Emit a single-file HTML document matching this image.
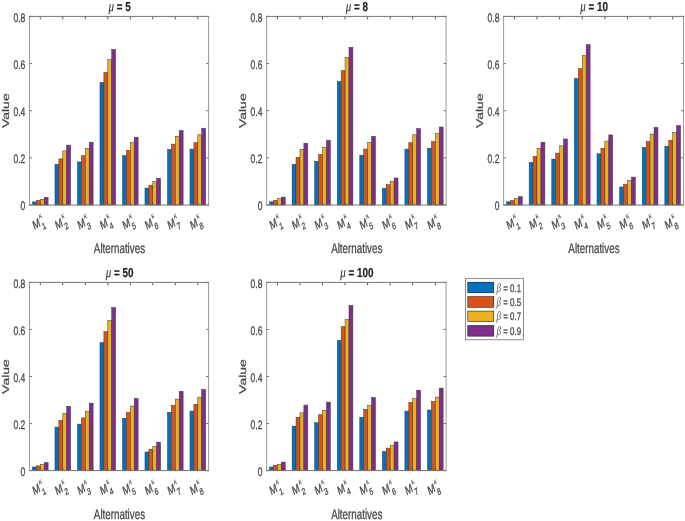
<!DOCTYPE html><html><head><meta charset="utf-8"><style>html,body{margin:0;padding:0;background:#fff;width:685px;height:521px;overflow:hidden}svg{display:block;will-change:transform;text-rendering:geometricPrecision}text{font-family:"Liberation Sans",sans-serif;fill:#484848;stroke:#484848;stroke-width:0.3}</style></head><body><svg width="685" height="521" viewBox="0 0 685 521"><rect width="685" height="521" fill="#fff"/><g stroke="#383838" stroke-width="0.5"><rect x="32.47" y="201.9" width="3.91" height="3.1" fill="#0072BD"/><rect x="36.39" y="200.3" width="3.91" height="4.7" fill="#D95319"/><rect x="40.3" y="199.3" width="3.91" height="5.7" fill="#EDB120"/><rect x="44.21" y="197.3" width="3.91" height="7.7" fill="#7E2F8E"/><rect x="54.97" y="164.3" width="3.91" height="40.7" fill="#0072BD"/><rect x="58.89" y="158.9" width="3.91" height="46.1" fill="#D95319"/><rect x="62.8" y="150.9" width="3.91" height="54.1" fill="#EDB120"/><rect x="66.71" y="145.1" width="3.91" height="59.9" fill="#7E2F8E"/><rect x="77.47" y="161.9" width="3.91" height="43.1" fill="#0072BD"/><rect x="81.39" y="155.7" width="3.91" height="49.3" fill="#D95319"/><rect x="85.3" y="148.4" width="3.91" height="56.6" fill="#EDB120"/><rect x="89.21" y="142.2" width="3.91" height="62.8" fill="#7E2F8E"/><rect x="99.97" y="82.4" width="3.91" height="122.6" fill="#0072BD"/><rect x="103.89" y="72.3" width="3.91" height="132.7" fill="#D95319"/><rect x="107.8" y="59.5" width="3.91" height="145.5" fill="#EDB120"/><rect x="111.71" y="49.4" width="3.91" height="155.6" fill="#7E2F8E"/><rect x="122.47" y="155.6" width="3.91" height="49.4" fill="#0072BD"/><rect x="126.39" y="150.3" width="3.91" height="54.7" fill="#D95319"/><rect x="130.3" y="142.7" width="3.91" height="62.3" fill="#EDB120"/><rect x="134.21" y="137.2" width="3.91" height="67.8" fill="#7E2F8E"/><rect x="144.97" y="188.1" width="3.91" height="16.9" fill="#0072BD"/><rect x="148.89" y="185.2" width="3.91" height="19.8" fill="#D95319"/><rect x="152.8" y="181.5" width="3.91" height="23.5" fill="#EDB120"/><rect x="156.71" y="178.2" width="3.91" height="26.8" fill="#7E2F8E"/><rect x="167.47" y="149.4" width="3.91" height="55.6" fill="#0072BD"/><rect x="171.39" y="144.1" width="3.91" height="60.9" fill="#D95319"/><rect x="175.3" y="136.2" width="3.91" height="68.8" fill="#EDB120"/><rect x="179.21" y="130.4" width="3.91" height="74.6" fill="#7E2F8E"/><rect x="189.97" y="149.1" width="3.91" height="55.9" fill="#0072BD"/><rect x="193.89" y="142.7" width="3.91" height="62.3" fill="#D95319"/><rect x="197.8" y="134.8" width="3.91" height="70.2" fill="#EDB120"/><rect x="201.71" y="128.2" width="3.91" height="76.8" fill="#7E2F8E"/></g><path d="M29.5 16.4V205M208.6 16.4V205" stroke="#9a9a9a" stroke-width="1" fill="none"/><path d="M29 16.4H209.1M29 205H209.1M29.5 205h2.5M208.6 205h-2.5M29.5 157.85h2.5M208.6 157.85h-2.5M29.5 110.7h2.5M208.6 110.7h-2.5M29.5 63.55h2.5M208.6 63.55h-2.5M29.5 16.4h2.5M208.6 16.4h-2.5" stroke="#747474" stroke-width="1" fill="none"/><path d="M40.3 205v-2.5M40.3 16.9v2.5M62.8 205v-2.5M62.8 16.9v2.5M85.3 205v-2.5M85.3 16.9v2.5M107.8 205v-2.5M107.8 16.9v2.5M130.3 205v-2.5M130.3 16.9v2.5M152.8 205v-2.5M152.8 16.9v2.5M175.3 205v-2.5M175.3 16.9v2.5M197.8 205v-2.5M197.8 16.9v2.5" stroke="#5a5a5a" stroke-width="1" fill="none"/><text transform="translate(25.3,210.45) scale(0.7,1)" font-size="12.2" text-anchor="end">0</text><text transform="translate(25.3,163.3) scale(0.7,1)" font-size="12.2" text-anchor="end">0.2</text><text transform="translate(25.3,116.15) scale(0.7,1)" font-size="12.2" text-anchor="end">0.4</text><text transform="translate(25.3,69) scale(0.7,1)" font-size="12.2" text-anchor="end">0.6</text><text transform="translate(25.3,21.85) scale(0.7,1)" font-size="12.2" text-anchor="end">0.8</text><text transform="translate(34.2,230) scale(0.7,1) rotate(-25)" font-size="12.6">M<tspan font-size="9.5" dx="1.3" dy="5.4">1</tspan><tspan font-size="9.5" dx="-5.67" dy="-11.9" style="font-family:&quot;Liberation Serif&quot;,serif;stroke-width:0;fill:#333" font-style="italic">&#954;</tspan></text><text transform="translate(56.7,230) scale(0.7,1) rotate(-25)" font-size="12.6">M<tspan font-size="9.5" dx="1.3" dy="5.4">2</tspan><tspan font-size="9.5" dx="-5.67" dy="-11.9" style="font-family:&quot;Liberation Serif&quot;,serif;stroke-width:0;fill:#333" font-style="italic">&#954;</tspan></text><text transform="translate(79.2,230) scale(0.7,1) rotate(-25)" font-size="12.6">M<tspan font-size="9.5" dx="1.3" dy="5.4">3</tspan><tspan font-size="9.5" dx="-5.67" dy="-11.9" style="font-family:&quot;Liberation Serif&quot;,serif;stroke-width:0;fill:#333" font-style="italic">&#954;</tspan></text><text transform="translate(101.7,230) scale(0.7,1) rotate(-25)" font-size="12.6">M<tspan font-size="9.5" dx="1.3" dy="5.4">4</tspan><tspan font-size="9.5" dx="-5.67" dy="-11.9" style="font-family:&quot;Liberation Serif&quot;,serif;stroke-width:0;fill:#333" font-style="italic">&#954;</tspan></text><text transform="translate(124.2,230) scale(0.7,1) rotate(-25)" font-size="12.6">M<tspan font-size="9.5" dx="1.3" dy="5.4">5</tspan><tspan font-size="9.5" dx="-5.67" dy="-11.9" style="font-family:&quot;Liberation Serif&quot;,serif;stroke-width:0;fill:#333" font-style="italic">&#954;</tspan></text><text transform="translate(146.7,230) scale(0.7,1) rotate(-25)" font-size="12.6">M<tspan font-size="9.5" dx="1.3" dy="5.4">6</tspan><tspan font-size="9.5" dx="-5.67" dy="-11.9" style="font-family:&quot;Liberation Serif&quot;,serif;stroke-width:0;fill:#333" font-style="italic">&#954;</tspan></text><text transform="translate(169.2,230) scale(0.7,1) rotate(-25)" font-size="12.6">M<tspan font-size="9.5" dx="1.3" dy="5.4">7</tspan><tspan font-size="9.5" dx="-5.67" dy="-11.9" style="font-family:&quot;Liberation Serif&quot;,serif;stroke-width:0;fill:#333" font-style="italic">&#954;</tspan></text><text transform="translate(191.7,230) scale(0.7,1) rotate(-25)" font-size="12.6">M<tspan font-size="9.5" dx="1.3" dy="5.4">8</tspan><tspan font-size="9.5" dx="-5.67" dy="-11.9" style="font-family:&quot;Liberation Serif&quot;,serif;stroke-width:0;fill:#333" font-style="italic">&#954;</tspan></text><text transform="translate(119.55,11.4) scale(0.76,1)" font-size="13.0" font-weight="bold" text-anchor="middle" style="fill:#1a1a1a;stroke:#1a1a1a;stroke-width:0.15"><tspan style="font-family:&quot;Liberation Serif&quot;,serif;fill:#333;stroke-width:0.1" font-size="14.5" font-style="italic" font-weight="normal">&#956;</tspan> = 5</text><text transform="translate(119.45,253.1) scale(0.7,1)" font-size="14.0" text-anchor="middle">Alternatives</text><text transform="translate(8.7,110.7) scale(0.7,1) rotate(-90)" font-size="14.0" text-anchor="middle">Value</text><g stroke="#383838" stroke-width="0.5"><rect x="269.55" y="201.8" width="3.92" height="3.2" fill="#0072BD"/><rect x="273.48" y="200.4" width="3.92" height="4.6" fill="#D95319"/><rect x="277.4" y="198.5" width="3.92" height="6.5" fill="#EDB120"/><rect x="281.32" y="197.1" width="3.92" height="7.9" fill="#7E2F8E"/><rect x="292.11" y="164.2" width="3.92" height="40.8" fill="#0072BD"/><rect x="296.03" y="157.4" width="3.92" height="47.6" fill="#D95319"/><rect x="299.96" y="149.4" width="3.92" height="55.6" fill="#EDB120"/><rect x="303.88" y="143.2" width="3.92" height="61.8" fill="#7E2F8E"/><rect x="314.67" y="161.2" width="3.92" height="43.8" fill="#0072BD"/><rect x="318.59" y="154.4" width="3.92" height="50.6" fill="#D95319"/><rect x="322.51" y="147.3" width="3.92" height="57.7" fill="#EDB120"/><rect x="326.44" y="140.2" width="3.92" height="64.8" fill="#7E2F8E"/><rect x="337.23" y="81.6" width="3.92" height="123.4" fill="#0072BD"/><rect x="341.15" y="70.6" width="3.92" height="134.4" fill="#D95319"/><rect x="345.07" y="57.5" width="3.92" height="147.5" fill="#EDB120"/><rect x="348.99" y="47.3" width="3.92" height="157.7" fill="#7E2F8E"/><rect x="359.78" y="155.2" width="3.92" height="49.8" fill="#0072BD"/><rect x="363.71" y="149.1" width="3.92" height="55.9" fill="#D95319"/><rect x="367.63" y="142.4" width="3.92" height="62.6" fill="#EDB120"/><rect x="371.55" y="136.2" width="3.92" height="68.8" fill="#7E2F8E"/><rect x="382.34" y="188.2" width="3.92" height="16.8" fill="#0072BD"/><rect x="386.26" y="184.7" width="3.92" height="20.3" fill="#D95319"/><rect x="390.19" y="181.2" width="3.92" height="23.8" fill="#EDB120"/><rect x="394.11" y="178" width="3.92" height="27" fill="#7E2F8E"/><rect x="404.9" y="149.1" width="3.92" height="55.9" fill="#0072BD"/><rect x="408.82" y="142.7" width="3.92" height="62.3" fill="#D95319"/><rect x="412.74" y="134.8" width="3.92" height="70.2" fill="#EDB120"/><rect x="416.67" y="128.6" width="3.92" height="76.4" fill="#7E2F8E"/><rect x="427.45" y="148.2" width="3.92" height="56.8" fill="#0072BD"/><rect x="431.38" y="141.5" width="3.92" height="63.5" fill="#D95319"/><rect x="435.3" y="133.4" width="3.92" height="71.6" fill="#EDB120"/><rect x="439.22" y="127" width="3.92" height="78" fill="#7E2F8E"/></g><path d="M266.6 16.4V205M446.1 16.4V205" stroke="#9a9a9a" stroke-width="1" fill="none"/><path d="M266.1 16.4H446.6M266.1 205H446.6M266.6 205h2.5M446.1 205h-2.5M266.6 157.85h2.5M446.1 157.85h-2.5M266.6 110.7h2.5M446.1 110.7h-2.5M266.6 63.55h2.5M446.1 63.55h-2.5M266.6 16.4h2.5M446.1 16.4h-2.5" stroke="#747474" stroke-width="1" fill="none"/><path d="M277.4 205v-2.5M277.4 16.9v2.5M299.96 205v-2.5M299.96 16.9v2.5M322.51 205v-2.5M322.51 16.9v2.5M345.07 205v-2.5M345.07 16.9v2.5M367.63 205v-2.5M367.63 16.9v2.5M390.19 205v-2.5M390.19 16.9v2.5M412.74 205v-2.5M412.74 16.9v2.5M435.3 205v-2.5M435.3 16.9v2.5" stroke="#5a5a5a" stroke-width="1" fill="none"/><text transform="translate(262.4,210.45) scale(0.7,1)" font-size="12.2" text-anchor="end">0</text><text transform="translate(262.4,163.3) scale(0.7,1)" font-size="12.2" text-anchor="end">0.2</text><text transform="translate(262.4,116.15) scale(0.7,1)" font-size="12.2" text-anchor="end">0.4</text><text transform="translate(262.4,69) scale(0.7,1)" font-size="12.2" text-anchor="end">0.6</text><text transform="translate(262.4,21.85) scale(0.7,1)" font-size="12.2" text-anchor="end">0.8</text><text transform="translate(271.3,230) scale(0.7,1) rotate(-25)" font-size="12.6">M<tspan font-size="9.5" dx="1.3" dy="5.4">1</tspan><tspan font-size="9.5" dx="-5.67" dy="-11.9" style="font-family:&quot;Liberation Serif&quot;,serif;stroke-width:0;fill:#333" font-style="italic">&#954;</tspan></text><text transform="translate(293.86,230) scale(0.7,1) rotate(-25)" font-size="12.6">M<tspan font-size="9.5" dx="1.3" dy="5.4">2</tspan><tspan font-size="9.5" dx="-5.67" dy="-11.9" style="font-family:&quot;Liberation Serif&quot;,serif;stroke-width:0;fill:#333" font-style="italic">&#954;</tspan></text><text transform="translate(316.41,230) scale(0.7,1) rotate(-25)" font-size="12.6">M<tspan font-size="9.5" dx="1.3" dy="5.4">3</tspan><tspan font-size="9.5" dx="-5.67" dy="-11.9" style="font-family:&quot;Liberation Serif&quot;,serif;stroke-width:0;fill:#333" font-style="italic">&#954;</tspan></text><text transform="translate(338.97,230) scale(0.7,1) rotate(-25)" font-size="12.6">M<tspan font-size="9.5" dx="1.3" dy="5.4">4</tspan><tspan font-size="9.5" dx="-5.67" dy="-11.9" style="font-family:&quot;Liberation Serif&quot;,serif;stroke-width:0;fill:#333" font-style="italic">&#954;</tspan></text><text transform="translate(361.53,230) scale(0.7,1) rotate(-25)" font-size="12.6">M<tspan font-size="9.5" dx="1.3" dy="5.4">5</tspan><tspan font-size="9.5" dx="-5.67" dy="-11.9" style="font-family:&quot;Liberation Serif&quot;,serif;stroke-width:0;fill:#333" font-style="italic">&#954;</tspan></text><text transform="translate(384.09,230) scale(0.7,1) rotate(-25)" font-size="12.6">M<tspan font-size="9.5" dx="1.3" dy="5.4">6</tspan><tspan font-size="9.5" dx="-5.67" dy="-11.9" style="font-family:&quot;Liberation Serif&quot;,serif;stroke-width:0;fill:#333" font-style="italic">&#954;</tspan></text><text transform="translate(406.64,230) scale(0.7,1) rotate(-25)" font-size="12.6">M<tspan font-size="9.5" dx="1.3" dy="5.4">7</tspan><tspan font-size="9.5" dx="-5.67" dy="-11.9" style="font-family:&quot;Liberation Serif&quot;,serif;stroke-width:0;fill:#333" font-style="italic">&#954;</tspan></text><text transform="translate(429.2,230) scale(0.7,1) rotate(-25)" font-size="12.6">M<tspan font-size="9.5" dx="1.3" dy="5.4">8</tspan><tspan font-size="9.5" dx="-5.67" dy="-11.9" style="font-family:&quot;Liberation Serif&quot;,serif;stroke-width:0;fill:#333" font-style="italic">&#954;</tspan></text><text transform="translate(356.85,11.4) scale(0.76,1)" font-size="13.0" font-weight="bold" text-anchor="middle" style="fill:#1a1a1a;stroke:#1a1a1a;stroke-width:0.15"><tspan style="font-family:&quot;Liberation Serif&quot;,serif;fill:#333;stroke-width:0.1" font-size="14.5" font-style="italic" font-weight="normal">&#956;</tspan> = 8</text><text transform="translate(356.75,253.1) scale(0.7,1)" font-size="14.0" text-anchor="middle">Alternatives</text><text transform="translate(245.8,110.7) scale(0.7,1) rotate(-90)" font-size="14.0" text-anchor="middle">Value</text><g stroke="#383838" stroke-width="0.5"><rect x="506.54" y="201.8" width="3.93" height="3.2" fill="#0072BD"/><rect x="510.47" y="200.4" width="3.93" height="4.6" fill="#D95319"/><rect x="514.4" y="198.5" width="3.93" height="6.5" fill="#EDB120"/><rect x="518.33" y="196.7" width="3.93" height="8.3" fill="#7E2F8E"/><rect x="529.15" y="162.3" width="3.93" height="42.7" fill="#0072BD"/><rect x="533.08" y="156.3" width="3.93" height="48.7" fill="#D95319"/><rect x="537.01" y="148.2" width="3.93" height="56.8" fill="#EDB120"/><rect x="540.95" y="142.2" width="3.93" height="62.8" fill="#7E2F8E"/><rect x="551.77" y="159.1" width="3.93" height="45.9" fill="#0072BD"/><rect x="555.7" y="153.1" width="3.93" height="51.9" fill="#D95319"/><rect x="559.63" y="145.9" width="3.93" height="59.1" fill="#EDB120"/><rect x="563.56" y="139" width="3.93" height="66" fill="#7E2F8E"/><rect x="574.38" y="78.5" width="3.93" height="126.5" fill="#0072BD"/><rect x="578.31" y="68.7" width="3.93" height="136.3" fill="#D95319"/><rect x="582.24" y="55.6" width="3.93" height="149.4" fill="#EDB120"/><rect x="586.17" y="44.7" width="3.93" height="160.3" fill="#7E2F8E"/><rect x="596.99" y="153.8" width="3.93" height="51.2" fill="#0072BD"/><rect x="600.93" y="148.2" width="3.93" height="56.8" fill="#D95319"/><rect x="604.86" y="141.1" width="3.93" height="63.9" fill="#EDB120"/><rect x="608.79" y="134.9" width="3.93" height="70.1" fill="#7E2F8E"/><rect x="619.61" y="187" width="3.93" height="18" fill="#0072BD"/><rect x="623.54" y="184.2" width="3.93" height="20.8" fill="#D95319"/><rect x="627.47" y="180.5" width="3.93" height="24.5" fill="#EDB120"/><rect x="631.4" y="177.1" width="3.93" height="27.9" fill="#7E2F8E"/><rect x="642.22" y="147.5" width="3.93" height="57.5" fill="#0072BD"/><rect x="646.15" y="141.5" width="3.93" height="63.5" fill="#D95319"/><rect x="650.09" y="134.1" width="3.93" height="70.9" fill="#EDB120"/><rect x="654.02" y="127.4" width="3.93" height="77.6" fill="#7E2F8E"/><rect x="664.84" y="146.2" width="3.93" height="58.8" fill="#0072BD"/><rect x="668.77" y="140.2" width="3.93" height="64.8" fill="#D95319"/><rect x="672.7" y="132.3" width="3.93" height="72.7" fill="#EDB120"/><rect x="676.63" y="125.6" width="3.93" height="79.4" fill="#7E2F8E"/></g><path d="M503.6 16.4V205M683.5 16.4V205" stroke="#9a9a9a" stroke-width="1" fill="none"/><path d="M503.1 16.4H684M503.1 205H684M503.6 205h2.5M683.5 205h-2.5M503.6 157.85h2.5M683.5 157.85h-2.5M503.6 110.7h2.5M683.5 110.7h-2.5M503.6 63.55h2.5M683.5 63.55h-2.5M503.6 16.4h2.5M683.5 16.4h-2.5" stroke="#747474" stroke-width="1" fill="none"/><path d="M514.4 205v-2.5M514.4 16.9v2.5M537.01 205v-2.5M537.01 16.9v2.5M559.63 205v-2.5M559.63 16.9v2.5M582.24 205v-2.5M582.24 16.9v2.5M604.86 205v-2.5M604.86 16.9v2.5M627.47 205v-2.5M627.47 16.9v2.5M650.09 205v-2.5M650.09 16.9v2.5M672.7 205v-2.5M672.7 16.9v2.5" stroke="#5a5a5a" stroke-width="1" fill="none"/><text transform="translate(499.4,210.45) scale(0.7,1)" font-size="12.2" text-anchor="end">0</text><text transform="translate(499.4,163.3) scale(0.7,1)" font-size="12.2" text-anchor="end">0.2</text><text transform="translate(499.4,116.15) scale(0.7,1)" font-size="12.2" text-anchor="end">0.4</text><text transform="translate(499.4,69) scale(0.7,1)" font-size="12.2" text-anchor="end">0.6</text><text transform="translate(499.4,21.85) scale(0.7,1)" font-size="12.2" text-anchor="end">0.8</text><text transform="translate(508.3,230) scale(0.7,1) rotate(-25)" font-size="12.6">M<tspan font-size="9.5" dx="1.3" dy="5.4">1</tspan><tspan font-size="9.5" dx="-5.67" dy="-11.9" style="font-family:&quot;Liberation Serif&quot;,serif;stroke-width:0;fill:#333" font-style="italic">&#954;</tspan></text><text transform="translate(530.91,230) scale(0.7,1) rotate(-25)" font-size="12.6">M<tspan font-size="9.5" dx="1.3" dy="5.4">2</tspan><tspan font-size="9.5" dx="-5.67" dy="-11.9" style="font-family:&quot;Liberation Serif&quot;,serif;stroke-width:0;fill:#333" font-style="italic">&#954;</tspan></text><text transform="translate(553.53,230) scale(0.7,1) rotate(-25)" font-size="12.6">M<tspan font-size="9.5" dx="1.3" dy="5.4">3</tspan><tspan font-size="9.5" dx="-5.67" dy="-11.9" style="font-family:&quot;Liberation Serif&quot;,serif;stroke-width:0;fill:#333" font-style="italic">&#954;</tspan></text><text transform="translate(576.14,230) scale(0.7,1) rotate(-25)" font-size="12.6">M<tspan font-size="9.5" dx="1.3" dy="5.4">4</tspan><tspan font-size="9.5" dx="-5.67" dy="-11.9" style="font-family:&quot;Liberation Serif&quot;,serif;stroke-width:0;fill:#333" font-style="italic">&#954;</tspan></text><text transform="translate(598.76,230) scale(0.7,1) rotate(-25)" font-size="12.6">M<tspan font-size="9.5" dx="1.3" dy="5.4">5</tspan><tspan font-size="9.5" dx="-5.67" dy="-11.9" style="font-family:&quot;Liberation Serif&quot;,serif;stroke-width:0;fill:#333" font-style="italic">&#954;</tspan></text><text transform="translate(621.37,230) scale(0.7,1) rotate(-25)" font-size="12.6">M<tspan font-size="9.5" dx="1.3" dy="5.4">6</tspan><tspan font-size="9.5" dx="-5.67" dy="-11.9" style="font-family:&quot;Liberation Serif&quot;,serif;stroke-width:0;fill:#333" font-style="italic">&#954;</tspan></text><text transform="translate(643.99,230) scale(0.7,1) rotate(-25)" font-size="12.6">M<tspan font-size="9.5" dx="1.3" dy="5.4">7</tspan><tspan font-size="9.5" dx="-5.67" dy="-11.9" style="font-family:&quot;Liberation Serif&quot;,serif;stroke-width:0;fill:#333" font-style="italic">&#954;</tspan></text><text transform="translate(666.6,230) scale(0.7,1) rotate(-25)" font-size="12.6">M<tspan font-size="9.5" dx="1.3" dy="5.4">8</tspan><tspan font-size="9.5" dx="-5.67" dy="-11.9" style="font-family:&quot;Liberation Serif&quot;,serif;stroke-width:0;fill:#333" font-style="italic">&#954;</tspan></text><text transform="translate(594.05,11.4) scale(0.76,1)" font-size="13.0" font-weight="bold" text-anchor="middle" style="fill:#1a1a1a;stroke:#1a1a1a;stroke-width:0.15"><tspan style="font-family:&quot;Liberation Serif&quot;,serif;fill:#333;stroke-width:0.1" font-size="14.5" font-style="italic" font-weight="normal">&#956;</tspan> = 10</text><text transform="translate(593.95,253.1) scale(0.7,1)" font-size="14.0" text-anchor="middle">Alternatives</text><text transform="translate(482.8,110.7) scale(0.7,1) rotate(-90)" font-size="14.0" text-anchor="middle">Value</text><g stroke="#383838" stroke-width="0.5"><rect x="32.47" y="467" width="3.91" height="3.6" fill="#0072BD"/><rect x="36.39" y="465.9" width="3.91" height="4.7" fill="#D95319"/><rect x="40.3" y="464.5" width="3.91" height="6.1" fill="#EDB120"/><rect x="44.21" y="462.6" width="3.91" height="8" fill="#7E2F8E"/><rect x="54.97" y="427.1" width="3.91" height="43.5" fill="#0072BD"/><rect x="58.89" y="420.4" width="3.91" height="50.2" fill="#D95319"/><rect x="62.8" y="413.4" width="3.91" height="57.2" fill="#EDB120"/><rect x="66.71" y="406.3" width="3.91" height="64.3" fill="#7E2F8E"/><rect x="77.47" y="424.1" width="3.91" height="46.5" fill="#0072BD"/><rect x="81.39" y="417.9" width="3.91" height="52.7" fill="#D95319"/><rect x="85.3" y="411.2" width="3.91" height="59.4" fill="#EDB120"/><rect x="89.21" y="403.1" width="3.91" height="67.5" fill="#7E2F8E"/><rect x="99.97" y="342.5" width="3.91" height="128.1" fill="#0072BD"/><rect x="103.89" y="331.5" width="3.91" height="139.1" fill="#D95319"/><rect x="107.8" y="320.6" width="3.91" height="150" fill="#EDB120"/><rect x="111.71" y="307.5" width="3.91" height="163.1" fill="#7E2F8E"/><rect x="122.47" y="418.3" width="3.91" height="52.3" fill="#0072BD"/><rect x="126.39" y="412.3" width="3.91" height="58.3" fill="#D95319"/><rect x="130.3" y="406.1" width="3.91" height="64.5" fill="#EDB120"/><rect x="134.21" y="398.5" width="3.91" height="72.1" fill="#7E2F8E"/><rect x="144.97" y="452" width="3.91" height="18.6" fill="#0072BD"/><rect x="148.89" y="449.2" width="3.91" height="21.4" fill="#D95319"/><rect x="152.8" y="446.2" width="3.91" height="24.4" fill="#EDB120"/><rect x="156.71" y="442.1" width="3.91" height="28.5" fill="#7E2F8E"/><rect x="167.47" y="412.3" width="3.91" height="58.3" fill="#0072BD"/><rect x="171.39" y="405.2" width="3.91" height="65.4" fill="#D95319"/><rect x="175.3" y="399.1" width="3.91" height="71.5" fill="#EDB120"/><rect x="179.21" y="391.3" width="3.91" height="79.3" fill="#7E2F8E"/><rect x="189.97" y="411.1" width="3.91" height="59.5" fill="#0072BD"/><rect x="193.89" y="404.2" width="3.91" height="66.4" fill="#D95319"/><rect x="197.8" y="397.1" width="3.91" height="73.5" fill="#EDB120"/><rect x="201.71" y="389.4" width="3.91" height="81.2" fill="#7E2F8E"/></g><path d="M29.5 282.4V470.6M208.6 282.4V470.6" stroke="#9a9a9a" stroke-width="1" fill="none"/><path d="M29 282.4H209.1M29 470.6H209.1M29.5 470.6h2.5M208.6 470.6h-2.5M29.5 423.55h2.5M208.6 423.55h-2.5M29.5 376.5h2.5M208.6 376.5h-2.5M29.5 329.45h2.5M208.6 329.45h-2.5M29.5 282.4h2.5M208.6 282.4h-2.5" stroke="#747474" stroke-width="1" fill="none"/><path d="M40.3 470.6v-2.5M40.3 282.9v2.5M62.8 470.6v-2.5M62.8 282.9v2.5M85.3 470.6v-2.5M85.3 282.9v2.5M107.8 470.6v-2.5M107.8 282.9v2.5M130.3 470.6v-2.5M130.3 282.9v2.5M152.8 470.6v-2.5M152.8 282.9v2.5M175.3 470.6v-2.5M175.3 282.9v2.5M197.8 470.6v-2.5M197.8 282.9v2.5" stroke="#5a5a5a" stroke-width="1" fill="none"/><text transform="translate(25.3,476.05) scale(0.7,1)" font-size="12.2" text-anchor="end">0</text><text transform="translate(25.3,429) scale(0.7,1)" font-size="12.2" text-anchor="end">0.2</text><text transform="translate(25.3,381.95) scale(0.7,1)" font-size="12.2" text-anchor="end">0.4</text><text transform="translate(25.3,334.9) scale(0.7,1)" font-size="12.2" text-anchor="end">0.6</text><text transform="translate(25.3,287.85) scale(0.7,1)" font-size="12.2" text-anchor="end">0.8</text><text transform="translate(34.2,495.6) scale(0.7,1) rotate(-25)" font-size="12.6">M<tspan font-size="9.5" dx="1.3" dy="5.4">1</tspan><tspan font-size="9.5" dx="-5.67" dy="-11.9" style="font-family:&quot;Liberation Serif&quot;,serif;stroke-width:0;fill:#333" font-style="italic">&#954;</tspan></text><text transform="translate(56.7,495.6) scale(0.7,1) rotate(-25)" font-size="12.6">M<tspan font-size="9.5" dx="1.3" dy="5.4">2</tspan><tspan font-size="9.5" dx="-5.67" dy="-11.9" style="font-family:&quot;Liberation Serif&quot;,serif;stroke-width:0;fill:#333" font-style="italic">&#954;</tspan></text><text transform="translate(79.2,495.6) scale(0.7,1) rotate(-25)" font-size="12.6">M<tspan font-size="9.5" dx="1.3" dy="5.4">3</tspan><tspan font-size="9.5" dx="-5.67" dy="-11.9" style="font-family:&quot;Liberation Serif&quot;,serif;stroke-width:0;fill:#333" font-style="italic">&#954;</tspan></text><text transform="translate(101.7,495.6) scale(0.7,1) rotate(-25)" font-size="12.6">M<tspan font-size="9.5" dx="1.3" dy="5.4">4</tspan><tspan font-size="9.5" dx="-5.67" dy="-11.9" style="font-family:&quot;Liberation Serif&quot;,serif;stroke-width:0;fill:#333" font-style="italic">&#954;</tspan></text><text transform="translate(124.2,495.6) scale(0.7,1) rotate(-25)" font-size="12.6">M<tspan font-size="9.5" dx="1.3" dy="5.4">5</tspan><tspan font-size="9.5" dx="-5.67" dy="-11.9" style="font-family:&quot;Liberation Serif&quot;,serif;stroke-width:0;fill:#333" font-style="italic">&#954;</tspan></text><text transform="translate(146.7,495.6) scale(0.7,1) rotate(-25)" font-size="12.6">M<tspan font-size="9.5" dx="1.3" dy="5.4">6</tspan><tspan font-size="9.5" dx="-5.67" dy="-11.9" style="font-family:&quot;Liberation Serif&quot;,serif;stroke-width:0;fill:#333" font-style="italic">&#954;</tspan></text><text transform="translate(169.2,495.6) scale(0.7,1) rotate(-25)" font-size="12.6">M<tspan font-size="9.5" dx="1.3" dy="5.4">7</tspan><tspan font-size="9.5" dx="-5.67" dy="-11.9" style="font-family:&quot;Liberation Serif&quot;,serif;stroke-width:0;fill:#333" font-style="italic">&#954;</tspan></text><text transform="translate(191.7,495.6) scale(0.7,1) rotate(-25)" font-size="12.6">M<tspan font-size="9.5" dx="1.3" dy="5.4">8</tspan><tspan font-size="9.5" dx="-5.67" dy="-11.9" style="font-family:&quot;Liberation Serif&quot;,serif;stroke-width:0;fill:#333" font-style="italic">&#954;</tspan></text><text transform="translate(119.55,277.4) scale(0.76,1)" font-size="13.0" font-weight="bold" text-anchor="middle" style="fill:#1a1a1a;stroke:#1a1a1a;stroke-width:0.15"><tspan style="font-family:&quot;Liberation Serif&quot;,serif;fill:#333;stroke-width:0.1" font-size="14.5" font-style="italic" font-weight="normal">&#956;</tspan> = 50</text><text transform="translate(119.45,518.7) scale(0.7,1)" font-size="14.0" text-anchor="middle">Alternatives</text><text transform="translate(8.7,376.5) scale(0.7,1) rotate(-90)" font-size="14.0" text-anchor="middle">Value</text><g stroke="#383838" stroke-width="0.5"><rect x="269.55" y="467" width="3.92" height="3.6" fill="#0072BD"/><rect x="273.48" y="465.2" width="3.92" height="5.4" fill="#D95319"/><rect x="277.4" y="464.2" width="3.92" height="6.4" fill="#EDB120"/><rect x="281.32" y="462.1" width="3.92" height="8.5" fill="#7E2F8E"/><rect x="292.11" y="426.1" width="3.92" height="44.5" fill="#0072BD"/><rect x="296.03" y="417.2" width="3.92" height="53.4" fill="#D95319"/><rect x="299.96" y="412.8" width="3.92" height="57.8" fill="#EDB120"/><rect x="303.88" y="405.1" width="3.92" height="65.5" fill="#7E2F8E"/><rect x="314.67" y="422.7" width="3.92" height="47.9" fill="#0072BD"/><rect x="318.59" y="414.8" width="3.92" height="55.8" fill="#D95319"/><rect x="322.51" y="410.4" width="3.92" height="60.2" fill="#EDB120"/><rect x="326.44" y="402.1" width="3.92" height="68.5" fill="#7E2F8E"/><rect x="337.23" y="340.4" width="3.92" height="130.2" fill="#0072BD"/><rect x="341.15" y="326.7" width="3.92" height="143.9" fill="#D95319"/><rect x="345.07" y="319.7" width="3.92" height="150.9" fill="#EDB120"/><rect x="348.99" y="305.3" width="3.92" height="165.3" fill="#7E2F8E"/><rect x="359.78" y="417.2" width="3.92" height="53.4" fill="#0072BD"/><rect x="363.71" y="409.3" width="3.92" height="61.3" fill="#D95319"/><rect x="367.63" y="405.6" width="3.92" height="65" fill="#EDB120"/><rect x="371.55" y="397.5" width="3.92" height="73.1" fill="#7E2F8E"/><rect x="382.34" y="451.5" width="3.92" height="19.1" fill="#0072BD"/><rect x="386.26" y="448.1" width="3.92" height="22.5" fill="#D95319"/><rect x="390.19" y="445.5" width="3.92" height="25.1" fill="#EDB120"/><rect x="394.11" y="441.9" width="3.92" height="28.7" fill="#7E2F8E"/><rect x="404.9" y="411.1" width="3.92" height="59.5" fill="#0072BD"/><rect x="408.82" y="402.4" width="3.92" height="68.2" fill="#D95319"/><rect x="412.74" y="398.7" width="3.92" height="71.9" fill="#EDB120"/><rect x="416.67" y="390.2" width="3.92" height="80.4" fill="#7E2F8E"/><rect x="427.45" y="410" width="3.92" height="60.6" fill="#0072BD"/><rect x="431.38" y="401.4" width="3.92" height="69.2" fill="#D95319"/><rect x="435.3" y="397.1" width="3.92" height="73.5" fill="#EDB120"/><rect x="439.22" y="388.1" width="3.92" height="82.5" fill="#7E2F8E"/></g><path d="M266.6 282.4V470.6M446.1 282.4V470.6" stroke="#9a9a9a" stroke-width="1" fill="none"/><path d="M266.1 282.4H446.6M266.1 470.6H446.6M266.6 470.6h2.5M446.1 470.6h-2.5M266.6 423.55h2.5M446.1 423.55h-2.5M266.6 376.5h2.5M446.1 376.5h-2.5M266.6 329.45h2.5M446.1 329.45h-2.5M266.6 282.4h2.5M446.1 282.4h-2.5" stroke="#747474" stroke-width="1" fill="none"/><path d="M277.4 470.6v-2.5M277.4 282.9v2.5M299.96 470.6v-2.5M299.96 282.9v2.5M322.51 470.6v-2.5M322.51 282.9v2.5M345.07 470.6v-2.5M345.07 282.9v2.5M367.63 470.6v-2.5M367.63 282.9v2.5M390.19 470.6v-2.5M390.19 282.9v2.5M412.74 470.6v-2.5M412.74 282.9v2.5M435.3 470.6v-2.5M435.3 282.9v2.5" stroke="#5a5a5a" stroke-width="1" fill="none"/><text transform="translate(262.4,476.05) scale(0.7,1)" font-size="12.2" text-anchor="end">0</text><text transform="translate(262.4,429) scale(0.7,1)" font-size="12.2" text-anchor="end">0.2</text><text transform="translate(262.4,381.95) scale(0.7,1)" font-size="12.2" text-anchor="end">0.4</text><text transform="translate(262.4,334.9) scale(0.7,1)" font-size="12.2" text-anchor="end">0.6</text><text transform="translate(262.4,287.85) scale(0.7,1)" font-size="12.2" text-anchor="end">0.8</text><text transform="translate(271.3,495.6) scale(0.7,1) rotate(-25)" font-size="12.6">M<tspan font-size="9.5" dx="1.3" dy="5.4">1</tspan><tspan font-size="9.5" dx="-5.67" dy="-11.9" style="font-family:&quot;Liberation Serif&quot;,serif;stroke-width:0;fill:#333" font-style="italic">&#954;</tspan></text><text transform="translate(293.86,495.6) scale(0.7,1) rotate(-25)" font-size="12.6">M<tspan font-size="9.5" dx="1.3" dy="5.4">2</tspan><tspan font-size="9.5" dx="-5.67" dy="-11.9" style="font-family:&quot;Liberation Serif&quot;,serif;stroke-width:0;fill:#333" font-style="italic">&#954;</tspan></text><text transform="translate(316.41,495.6) scale(0.7,1) rotate(-25)" font-size="12.6">M<tspan font-size="9.5" dx="1.3" dy="5.4">3</tspan><tspan font-size="9.5" dx="-5.67" dy="-11.9" style="font-family:&quot;Liberation Serif&quot;,serif;stroke-width:0;fill:#333" font-style="italic">&#954;</tspan></text><text transform="translate(338.97,495.6) scale(0.7,1) rotate(-25)" font-size="12.6">M<tspan font-size="9.5" dx="1.3" dy="5.4">4</tspan><tspan font-size="9.5" dx="-5.67" dy="-11.9" style="font-family:&quot;Liberation Serif&quot;,serif;stroke-width:0;fill:#333" font-style="italic">&#954;</tspan></text><text transform="translate(361.53,495.6) scale(0.7,1) rotate(-25)" font-size="12.6">M<tspan font-size="9.5" dx="1.3" dy="5.4">5</tspan><tspan font-size="9.5" dx="-5.67" dy="-11.9" style="font-family:&quot;Liberation Serif&quot;,serif;stroke-width:0;fill:#333" font-style="italic">&#954;</tspan></text><text transform="translate(384.09,495.6) scale(0.7,1) rotate(-25)" font-size="12.6">M<tspan font-size="9.5" dx="1.3" dy="5.4">6</tspan><tspan font-size="9.5" dx="-5.67" dy="-11.9" style="font-family:&quot;Liberation Serif&quot;,serif;stroke-width:0;fill:#333" font-style="italic">&#954;</tspan></text><text transform="translate(406.64,495.6) scale(0.7,1) rotate(-25)" font-size="12.6">M<tspan font-size="9.5" dx="1.3" dy="5.4">7</tspan><tspan font-size="9.5" dx="-5.67" dy="-11.9" style="font-family:&quot;Liberation Serif&quot;,serif;stroke-width:0;fill:#333" font-style="italic">&#954;</tspan></text><text transform="translate(429.2,495.6) scale(0.7,1) rotate(-25)" font-size="12.6">M<tspan font-size="9.5" dx="1.3" dy="5.4">8</tspan><tspan font-size="9.5" dx="-5.67" dy="-11.9" style="font-family:&quot;Liberation Serif&quot;,serif;stroke-width:0;fill:#333" font-style="italic">&#954;</tspan></text><text transform="translate(356.85,277.4) scale(0.76,1)" font-size="13.0" font-weight="bold" text-anchor="middle" style="fill:#1a1a1a;stroke:#1a1a1a;stroke-width:0.15"><tspan style="font-family:&quot;Liberation Serif&quot;,serif;fill:#333;stroke-width:0.1" font-size="14.5" font-style="italic" font-weight="normal">&#956;</tspan> = 100</text><text transform="translate(356.75,518.7) scale(0.7,1)" font-size="14.0" text-anchor="middle">Alternatives</text><text transform="translate(245.8,376.5) scale(0.7,1) rotate(-90)" font-size="14.0" text-anchor="middle">Value</text><rect x="465.5" y="278.6" width="58" height="61.1" fill="#fff" stroke="#8a8a8a" stroke-width="1"/><rect x="467.8" y="282.2" width="26" height="10.6" fill="#0072BD" stroke="#000" stroke-width="0.5"/><text transform="translate(496.5,291.5) scale(0.72,1)" font-size="11.0"><tspan style="font-family:&quot;Liberation Serif&quot;,serif;fill:#555;stroke-width:0" font-size="12.6" font-style="italic">&#946;</tspan> = 0.1</text><rect x="467.8" y="296.65" width="26" height="10.6" fill="#D95319" stroke="#000" stroke-width="0.5"/><text transform="translate(496.5,305.95) scale(0.72,1)" font-size="11.0"><tspan style="font-family:&quot;Liberation Serif&quot;,serif;fill:#555;stroke-width:0" font-size="12.6" font-style="italic">&#946;</tspan> = 0.5</text><rect x="467.8" y="311.1" width="26" height="10.6" fill="#EDB120" stroke="#000" stroke-width="0.5"/><text transform="translate(496.5,320.4) scale(0.72,1)" font-size="11.0"><tspan style="font-family:&quot;Liberation Serif&quot;,serif;fill:#555;stroke-width:0" font-size="12.6" font-style="italic">&#946;</tspan> = 0.7</text><rect x="467.8" y="325.55" width="26" height="10.6" fill="#7E2F8E" stroke="#000" stroke-width="0.5"/><text transform="translate(496.5,334.85) scale(0.72,1)" font-size="11.0"><tspan style="font-family:&quot;Liberation Serif&quot;,serif;fill:#555;stroke-width:0" font-size="12.6" font-style="italic">&#946;</tspan> = 0.9</text></svg></body></html>
